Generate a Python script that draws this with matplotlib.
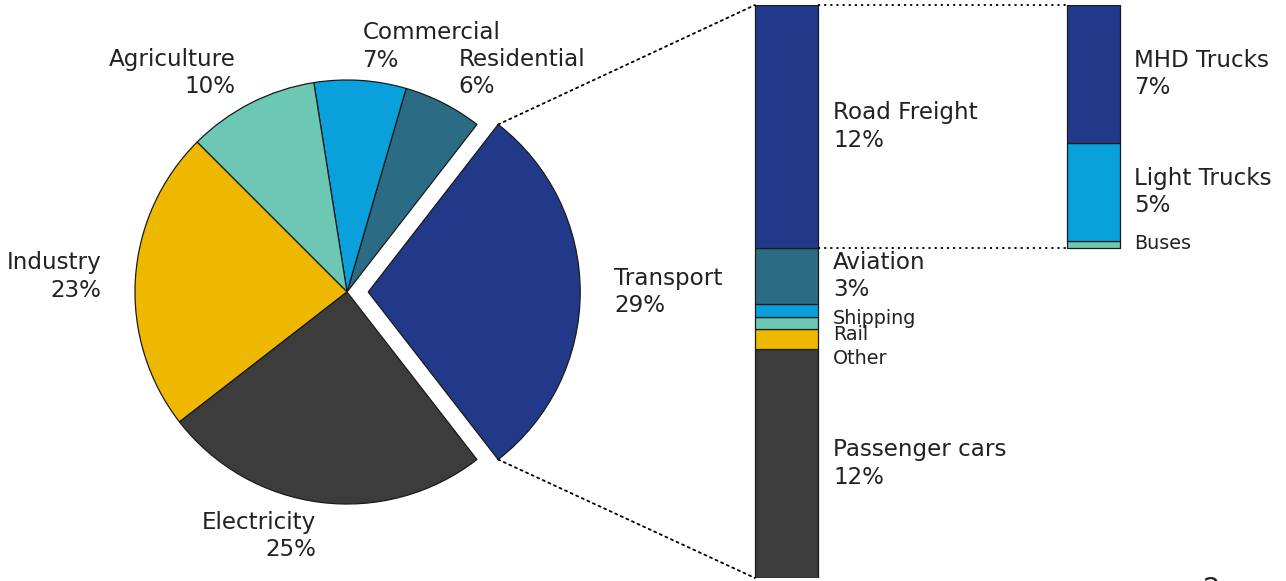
import matplotlib
matplotlib.use('Agg')
import matplotlib.pyplot as plt
from matplotlib.patches import ConnectionPatch
import numpy as np

plt.rcParams['font.family'] = ['DejaVu Sans']

# ---------------- data ----------------
sectors = ['Transport', 'Residential', 'Commercial', 'Agriculture', 'Industry', 'Electricity']
sector_pct = [29, 6, 7, 10, 23, 25]

transport_modes = ['Passenger cars', 'Other', 'Rail', 'Shipping', 'Aviation', 'Road Freight']
transport_vals = [11.6, 1.0, 0.6, 0.65, 2.85, 12.3]
transport_pct_text = ['12%', None, None, None, '3%', '12%']

freight_modes = ['Buses', 'Light Trucks', 'MHD Trucks']
freight_vals = [0.35, 4.95, 7.0]
freight_pct_text = [None, '5%', '7%']

# ---------------- styles ----------------
DBLUE = '#22398a'
DTEAL = '#2b6c84'
BLUE = '#0aa0dc'
LTEAL = '#6cc7b3'
YELLOW = '#efb800'
GRAY = '#3c3c3c'
EDGE = '#1a1a1a'
TXT = '#222222'
FS = 16.6
FS_SMALL = 13.8
LSP = 1.25

sector_colors = [DBLUE, DTEAL, BLUE, LTEAL, YELLOW, GRAY]
transport_colors = [GRAY, YELLOW, LTEAL, BLUE, DTEAL, DBLUE]
freight_colors = [LTEAL, BLUE, DBLUE]

W, H = 1286, 581
fig = plt.figure(figsize=(W / 100, H / 100), dpi=100)

# ---------------- pie ----------------
R_PX = 212
CX, CY = 347, 292  # pixel centre (y from top)
HALF = 250
pax = fig.add_axes([(CX - HALF) / W, (H - CY - HALF) / H, 2 * HALF / W, 2 * HALF / H])
start = -sector_pct[0] / 100 * 360 / 2
labels = [f'{s}\n{p}%' for s, p in zip(sectors, sector_pct)]
wedges, texts = pax.pie(sector_pct, colors=sector_colors, startangle=start,
                        counterclock=True, explode=[0.1, 0, 0, 0, 0, 0],
                        labels=labels, labeldistance=1.16,
                        wedgeprops=dict(edgecolor=EDGE, linewidth=0.9),
                        textprops=dict(fontsize=FS, color=TXT, linespacing=LSP))
lim = HALF / R_PX
pax.set_xlim(-lim, lim)
pax.set_ylim(-lim, lim)
pax.axis('off')

# ---------------- bars ----------------
bax = fig.add_axes([0, 3 / H, 1, 573 / H])
bax.set_xlim(0, W)
total = sum(transport_vals)
bax.set_ylim(0, total)
bax.axis('off')

B1X, B1W = 786.5, 63
B2X, B2W = 1093.5, 53

bottom = 0
bar1_bottoms = []
for v, c in zip(transport_vals, transport_colors):
    bax.bar(B1X, v, width=B1W, bottom=bottom, color=c, edgecolor=EDGE, linewidth=0.9)
    bar1_bottoms.append(bottom)
    bottom += v

freight_base = bar1_bottoms[-1]
bottom = freight_base
bar2_bottoms = []
for v, c in zip(freight_vals, freight_colors):
    bax.bar(B2X, v, width=B2W, bottom=bottom, color=c, edgecolor=EDGE, linewidth=0.9)
    bar2_bottoms.append(bottom)
    bottom += v

small_offsets = {'Shipping': -8, 'Rail': -11.5, 'Other': -20, 'Buses': 1}

def label_bar(x_left, names, vals, bottoms, pcts):
    for n, v, b, p in zip(names, vals, bottoms, pcts):
        yc = b + v / 2
        if p is None:
            bax.annotate(n, (x_left, yc), xytext=(0, small_offsets.get(n, 0)),
                         textcoords='offset pixels', ha='left', va='center',
                         fontsize=FS_SMALL, color=TXT)
        else:
            bax.text(x_left, yc, f'{n}\n{p}', ha='left', va='center',
                     fontsize=FS, color=TXT, linespacing=LSP)

label_bar(B1X + B1W / 2 + 15, transport_modes, transport_vals, bar1_bottoms, transport_pct_text)
label_bar(B2X + B2W / 2 + 14, freight_modes, freight_vals, bar2_bottoms, freight_pct_text)

# ---------------- connectors ----------------
w0 = wedges[0]
cx, cy = w0.center
r = w0.r
p_top = (cx + r * np.cos(np.radians(w0.theta2)), cy + r * np.sin(np.radians(w0.theta2)))
p_bot = (cx + r * np.cos(np.radians(w0.theta1)), cy + r * np.sin(np.radians(w0.theta1)))

ls = (0, (1.2, 2.2))
for pp, yb in [(p_top, total), (p_bot, 0)]:
    con = ConnectionPatch(xyA=pp, coordsA=pax.transData,
                          xyB=(B1X - B1W / 2, yb), coordsB=bax.transData,
                          color='black', linewidth=1.3, linestyle=ls)
    fig.add_artist(con)

for yb in [total, freight_base]:
    bax.plot([B1X + B1W / 2, B2X - B2W / 2], [yb, yb], color='black',
             linewidth=1.3, linestyle=ls, clip_on=False)

# partially visible page number
fig.text(1203 / W, 1 - 576 / H, '2', ha='left', va='top', fontsize=20, color=TXT)

fig.savefig('out.png', dpi=100)
